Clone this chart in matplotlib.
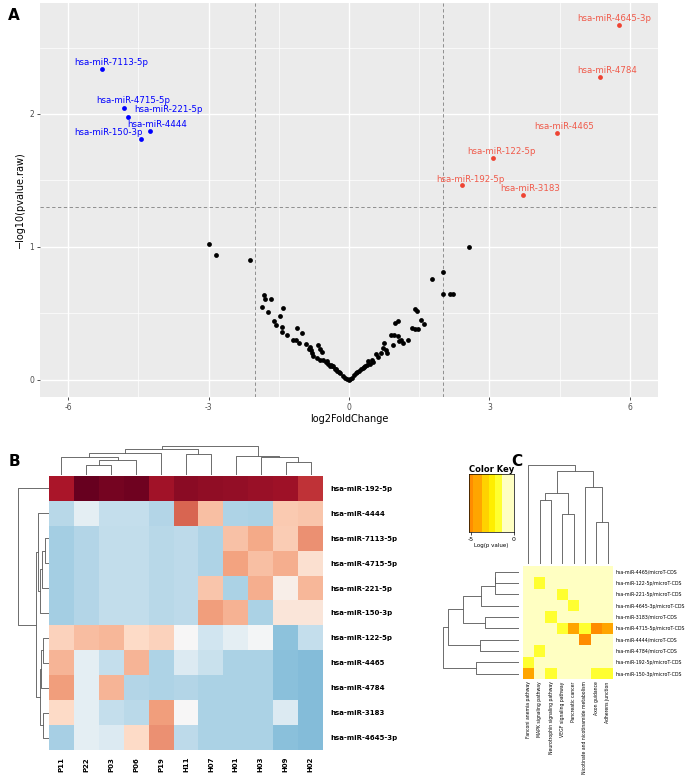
import matplotlib
matplotlib.use("Agg")
import matplotlib.pyplot as plt
import numpy as np
from matplotlib.colors import ListedColormap, BoundaryNorm

# ---------------- panel A: volcano ----------------
down_names = ["hsa-miR-7113-5p", "hsa-miR-4715-5p", "hsa-miR-221-5p", "hsa-miR-4444", "hsa-miR-150-3p"]
down_fc = [-5.27, -4.81, -4.72, -4.24, -4.44]
down_p = [2.34, 2.045, 1.98, 1.875, 1.81]

up_names = ["hsa-miR-4645-3p", "hsa-miR-4784", "hsa-miR-4465", "hsa-miR-122-5p", "hsa-miR-192-5p", "hsa-miR-3183"]
up_fc = [5.76, 5.36, 4.44, 3.07, 2.41, 3.72]
up_p = [2.67, 2.28, 1.855, 1.67, 1.465, 1.39]

ns_fc = [-2.99, -2.84, -2.11, 2.56, 2.00, 1.78, 2.00, 2.16, 2.23,
         -1.82, -1.80, -1.66, -1.86, -1.40, -1.73, -1.47, -1.61, -1.55, -1.43,
         -1.11, -1.43, -1.32, -1.01, -1.19, -1.14, -1.06, -0.91, -0.83, -0.66,
         -0.63, -0.57, -0.85, -0.81, -0.79, -0.76, -0.68, -0.61, -0.55, -0.47,
         -0.44, -0.38, -0.34, -0.30, -0.25, -0.19, -0.13, -0.08, 0.00, -0.50,
         -0.41, -0.27, -0.05, -0.22, -0.36,
         1.42, 1.46, 1.04, 0.99, 1.53, 1.61, 1.34, 1.42, 1.48, 0.90,
         0.96, 1.04, 1.12, 1.06, 1.25, 1.15, 0.93, 0.74, 0.72, 0.78,
         0.82, 0.68, 0.57, 0.61, 0.49, 0.52, 0.40, 0.38, 0.30, 0.26,
         0.21, 0.16, 0.11, 0.07, 0.44, 0.35, 0.03, 0.18, 0.33]
ns_p = [1.025, 0.94, 0.90, 1.00, 0.81, 0.755, 0.645, 0.645, 0.645,
        0.64, 0.61, 0.61, 0.55, 0.54, 0.51, 0.48, 0.44, 0.41, 0.40,
        0.39, 0.36, 0.34, 0.35, 0.30, 0.30, 0.28, 0.27, 0.25, 0.26,
        0.23, 0.21, 0.23, 0.22, 0.20, 0.18, 0.16, 0.15, 0.15, 0.14,
        0.12, 0.11, 0.10, 0.08, 0.065, 0.05, 0.03, 0.013, 0.0, 0.13,
        0.10, 0.08, 0.008, 0.06, 0.105,
        0.53, 0.52, 0.44, 0.43, 0.45, 0.42, 0.39, 0.38, 0.38, 0.34,
        0.34, 0.33, 0.30, 0.29, 0.30, 0.28, 0.26, 0.28, 0.24, 0.22,
        0.20, 0.20, 0.19, 0.17, 0.15, 0.13, 0.14, 0.11, 0.09, 0.08,
        0.065, 0.048, 0.033, 0.015, 0.12, 0.10, 0.005, 0.055, 0.095]

fc_cut = 2
p_cut = -np.log10(0.05)

# label offsets (dx, dy) in data units, like ggrepel placed them
down_off = [(0.19, 0.05), (0.20, 0.055), (0.86, 0.05), (0.15, 0.045), (-0.69, 0.05)]
up_off = [(-0.09, 0.05), (0.16, 0.05), (0.15, 0.05), (0.18, 0.05), (0.18, 0.045), (0.15, 0.05)]

# ---------------- panel B: expression heatmap ----------------
b_rows = ["hsa-miR-192-5p", "hsa-miR-4444", "hsa-miR-7113-5p", "hsa-miR-4715-5p",
          "hsa-miR-221-5p", "hsa-miR-150-3p", "hsa-miR-122-5p", "hsa-miR-4465",
          "hsa-miR-4784", "hsa-miR-3183", "hsa-miR-4645-3p"]
b_cols = ["P11", "P22", "P03", "P06", "P19", "H11", "H07", "H01", "H03", "H09", "H02"]
b_vals = [
    [0.91, 1.00, 0.98, 0.985, 0.92, 0.95, 0.945, 0.94, 0.93, 0.925, 0.86],
    [0.36, 0.45, 0.38, 0.38, 0.355, 0.79, 0.65, 0.345, 0.34, 0.63, 0.64],
    [0.33, 0.355, 0.375, 0.375, 0.36, 0.37, 0.345, 0.645, 0.69, 0.625, 0.73],
    [0.33, 0.355, 0.375, 0.375, 0.36, 0.37, 0.345, 0.70, 0.65, 0.68, 0.58],
    [0.33, 0.355, 0.375, 0.375, 0.36, 0.37, 0.64, 0.34, 0.68, 0.53, 0.665],
    [0.33, 0.355, 0.375, 0.375, 0.36, 0.37, 0.71, 0.675, 0.34, 0.56, 0.56],
    [0.615, 0.655, 0.665, 0.60, 0.615, 0.50, 0.40, 0.45, 0.49, 0.295, 0.38],
    [0.67, 0.45, 0.38, 0.67, 0.345, 0.43, 0.39, 0.34, 0.34, 0.29, 0.285],
    [0.71, 0.45, 0.67, 0.355, 0.345, 0.355, 0.34, 0.34, 0.34, 0.29, 0.285],
    [0.60, 0.45, 0.38, 0.365, 0.71, 0.50, 0.34, 0.34, 0.34, 0.43, 0.285],
    [0.335, 0.45, 0.43, 0.60, 0.73, 0.37, 0.34, 0.34, 0.34, 0.29, 0.285],
]
# dendrograms: (left, right, height), leaves are row / column indices
b_col_tree = ((((0, ((1, 2, 28), 3, 43), 51), 4, 63), (5, 6, 60), 76),
              (7, (8, (9, 10, 36), 53), 55), 86)
b_row_tree = (0, ((1, (((2, 3, 10), 4, 20), 5, 25), 30),
                  (((6, 7, 15), 8, 22), (9, 10, 15), 25), 38), 90)

# ---------------- panel C: pathway heatmap ----------------
c_rows = ["hsa-miR-4465/microT-CDS", "hsa-miR-122-5p/microT-CDS", "hsa-miR-221-5p/microT-CDS",
          "hsa-miR-4645-3p/microT-CDS", "hsa-miR-3183/microT-CDS", "hsa-miR-4715-5p/microT-CDS",
          "hsa-miR-4444/microT-CDS", "hsa-miR-4784/microT-CDS", "hsa-miR-192-5p/microT-CDS",
          "hsa-miR-150-3p/microT-CDS"]
c_cols = ["Fanconi anemia pathway", "MAPK signaling pathway", "Neurotrophin signaling pathway",
          "VEGF signaling pathway", "Pancreatic cancer", "Nicotinate and nicotinamide metabolism",
          "Axon guidance", "Adherens junction"]
c_vals = [
    [-0.5, -0.5, -0.5, -0.5, -0.5, -0.5, -0.5, -0.5],
    [-0.5, -1.8, -0.5, -0.5, -0.5, -0.5, -0.5, -0.5],
    [-0.5, -0.5, -0.5, -1.8, -0.5, -0.5, -0.5, -0.5],
    [-0.5, -0.5, -0.5, -0.5, -1.8, -0.5, -0.5, -0.5],
    [-0.5, -0.5, -1.8, -0.5, -0.5, -0.5, -0.5, -0.5],
    [-0.5, -0.5, -0.5, -1.8, -4.2, -1.8, -5.0, -4.2],
    [-0.5, -0.5, -0.5, -0.5, -0.5, -5.0, -0.5, -0.5],
    [-0.5, -1.8, -0.5, -0.5, -0.5, -0.5, -0.5, -0.5],
    [-1.8, -0.5, -0.5, -0.5, -0.5, -0.5, -0.5, -0.5],
    [-4.2, -0.5, -1.8, -0.5, -0.5, -0.5, -1.8, -1.8],
]
c_col_tree = (0, (((1, 2, 192), (3, 4, 150), 215), (5, (6, 7, 127), 232), 280), 297)
c_row_tree = (((((((0, 1, 69), 2, 70), 3, 113), (4, 5, 99), 167), (6, 7, 115), 210)),
              (8, 9, 128), 225)
key_bounds = [-5.2, -4.75, -3.75, -2.85, -2.25, -1.4, 0]
key_colors = ["#FF8C00", "#FFA500", "#FFD200", "#FFEE00", "#FFFF30", "#FFFFC2"]

W, H = 685, 775
fig = plt.figure(figsize=(W / 100, H / 100), dpi=100)


def px_axes(x0, y0, x1, y1):
    return fig.add_axes([x0 / W, 1 - y1 / H, (x1 - x0) / W, (y1 - y0) / H])


def draw_tree(ax, node, orient, color="#555555", lw=0.7):
    if isinstance(node, int):
        return float(node), 0.0
    left, right, h = node
    p1, h1 = draw_tree(ax, left, orient, color, lw)
    p2, h2 = draw_tree(ax, right, orient, color, lw)
    if orient == "top":
        ax.plot([p1, p1, p2, p2], [h1, h, h, h2], color=color, lw=lw, solid_capstyle="butt")
    else:
        ax.plot([h1, h, h, h2], [p1, p1, p2, p2], color=color, lw=lw, solid_capstyle="butt")
    return (p1 + p2) / 2, h


# ---- A ----
ax = px_axes(40, 3, 658, 397)
ax.set_facecolor("#EBEBEB")
ax.set_xlim(-6.6, 6.6)
ax.set_ylim(-0.13, 2.835)
ax.set_xticks([-6, -3, 0, 3, 6])
ax.set_xticklabels(["-6", "-3", "0", "3", "6"])
ax.set_yticks([0, 1, 2])
ax.set_xticks([-4.5, -1.5, 1.5, 4.5], minor=True)
ax.set_yticks([0.5, 1.5, 2.5], minor=True)
ax.grid(which="major", color="white", lw=1.0)
ax.grid(which="minor", color="white", lw=0.5)
ax.set_axisbelow(True)
for s in ax.spines.values():
    s.set_visible(False)
ax.tick_params(which="major", length=2.5, width=0.6, color="#333333",
               labelsize=5.5, labelcolor="#4D4D4D", pad=1.5)
ax.tick_params(which="minor", length=0)
ax.axhline(p_cut, color="#808080", lw=0.6, ls=(0, (4, 3)))
ax.axvline(-fc_cut, color="#808080", lw=0.6, ls=(0, (4, 3)))
ax.axvline(fc_cut, color="#808080", lw=0.6, ls=(0, (4, 3)))
ax.scatter(ns_fc, ns_p, s=12, color="black", lw=0, zorder=3)
ax.scatter(down_fc, down_p, s=12, color="#0000FF", lw=0, zorder=3)
ax.scatter(up_fc, up_p, s=12, color="#EE4433", lw=0, zorder=3)
for name, x, y, (dx, dy) in zip(down_names, down_fc, down_p, down_off):
    ax.text(x + dx, y + dy, name, color="#0000FF", fontsize=6.2, ha="center", va="center")
for name, x, y, (dx, dy) in zip(up_names, up_fc, up_p, up_off):
    ax.text(x + dx, y + dy, name, color="#F05A4A", fontsize=6.2, ha="center", va="center")
ax.set_xlabel("log2FoldChange", fontsize=7, labelpad=2)
ax.set_ylabel("\u2212log10(pvalue.raw)", fontsize=7, labelpad=3)

# ---- B ----
hb = px_axes(49, 476, 323, 750)
hb.imshow(np.array(b_vals), cmap="RdBu_r", vmin=0, vmax=1, aspect="auto",
          interpolation="nearest")
hb.set_xticks(range(len(b_cols)))
hb.set_xticklabels(b_cols, rotation=90, fontsize=5, fontweight="bold")
hb.set_yticks(range(len(b_rows)))
hb.set_yticklabels(b_rows, fontsize=5, fontweight="bold")
hb.yaxis.tick_right()
hb.tick_params(length=0, pad=5)
for s in hb.spines.values():
    s.set_visible(False)

cb = px_axes(49, 445.5, 323, 474.5)
draw_tree(cb, b_col_tree, "top", lw=0.6)
cb.set_xlim(-0.5, len(b_cols) - 0.5)
cb.set_ylim(0, 86.5)
cb.axis("off")

rb = px_axes(18, 476, 48.5, 750)
draw_tree(rb, b_row_tree, "left", lw=0.6)
rb.set_ylim(len(b_rows) - 0.5, -0.5)
rb.set_xlim(90.5, 0)
rb.axis("off")

# ---- C ----
ccmap = ListedColormap(key_colors)
cnorm = BoundaryNorm(key_bounds, ccmap.N)
hc = px_axes(522.7, 566, 613.3, 679.3)
hc.pcolormesh(np.array(c_vals), cmap=ccmap, norm=cnorm)
hc.set_xlim(0, len(c_cols))
hc.set_ylim(len(c_rows), 0)
hc.set_xticks(np.arange(len(c_cols)) + 0.5)
hc.set_xticklabels(c_cols, rotation=90, fontsize=3.3)
hc.set_yticks(np.arange(len(c_rows)) + 0.5)
hc.set_yticklabels(c_rows, fontsize=3.4)
hc.yaxis.tick_right()
hc.tick_params(length=0, pad=1.5)
for s in hc.spines.values():
    s.set_visible(False)

cc = px_axes(522.7, 465, 613.3, 564)
draw_tree(cc, c_col_tree, "top", lw=0.6)
cc.set_xlim(-0.5, len(c_cols) - 0.5)
cc.set_ylim(0, 298)
cc.axis("off")

rc = px_axes(443, 566, 518.5, 679.3)
draw_tree(rc, c_row_tree, "left", lw=0.6)
rc.set_ylim(len(c_rows) - 0.5, -0.5)
rc.set_xlim(226, 0)
rc.axis("off")

kc = px_axes(469, 474.3, 514, 531.7)
kx = np.linspace(key_bounds[0], key_bounds[-1], 200)
kc.pcolormesh(kx, [0, 1], np.vstack([kx[:-1]]), cmap=ccmap, norm=cnorm)
kc.set_xlim(key_bounds[0], key_bounds[-1])
kc.set_yticks([])
kc.set_xticks([-5, 0])
kc.set_xticklabels(["-5", "0"])
kc.tick_params(axis="x", length=2, width=0.5, labelsize=4.5, pad=1.5)
for s in kc.spines.values():
    s.set_linewidth(0.5)
kc.set_title("Color Key", fontsize=6, fontweight="bold", pad=2)
kc.set_xlabel("Log(p value)", fontsize=4, labelpad=1)

# panel letters
fig.text(14 / W, 1 - 16 / H, "A", fontsize=11, fontweight="bold", ha="center", va="center")
fig.text(14 / W, 1 - 462 / H, "B", fontsize=11, fontweight="bold", ha="center", va="center")
fig.text(517 / W, 1 - 462 / H, "C", fontsize=11, fontweight="bold", ha="center", va="center")

fig.savefig("out.png", dpi=100)
